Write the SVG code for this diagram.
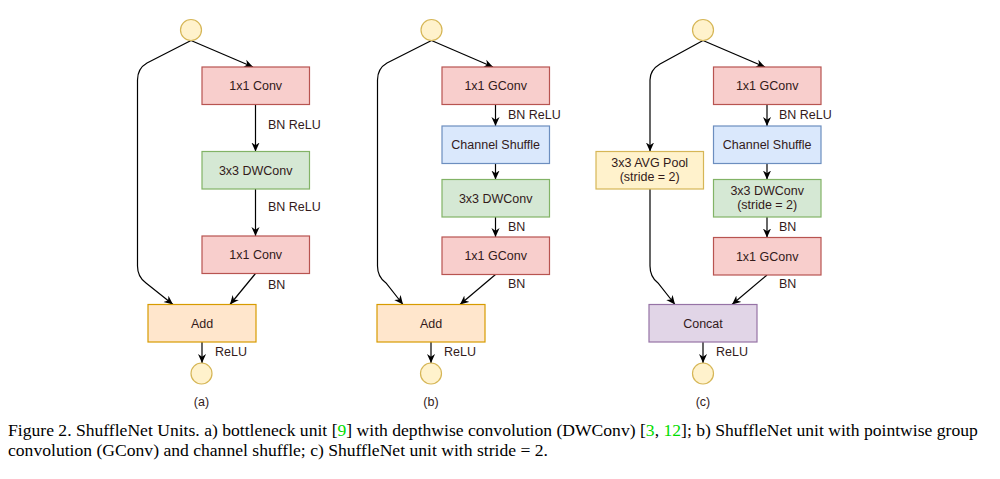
<svg xmlns="http://www.w3.org/2000/svg" width="1000" height="479" viewBox="0 0 1000 479">
  <defs>
    <style>
      .box { stroke-width: 1.2; }
      .red { fill: #f8cecc; stroke: #b85450; }
      .green { fill: #d5e8d4; stroke: #82b366; }
      .blue { fill: #dae8fc; stroke: #6c8ebf; }
      .orange { fill: #ffe6cc; stroke: #d79b00; }
      .yellow { fill: #fff2cc; stroke: #d6b656; }
      .purple { fill: #e1d5e7; stroke: #9673a6; }
      .lbl { font-family: "Liberation Sans", Arial, sans-serif; font-size: 12.5px; fill: #331a1a; }
      .mid { text-anchor: middle; }
      .edge { fill: none; stroke: #000; stroke-width: 1.2; marker-end: url(#arr); }
      .cap { font-family: "Liberation Serif", "Times New Roman", serif; font-size: 17.6px; fill: #000; }
      .ref { fill: #00dd00; }
    </style>
    <marker id="arr" viewBox="0 0 10 10" refX="10" refY="5" markerWidth="9" markerHeight="9" markerUnits="userSpaceOnUse" orient="auto">
      <path d="M0,0.5 L10,5 L0,9.5 L3,5 z" fill="#000"/>
    </marker>
  </defs>
  <rect width="1000" height="479" fill="#fff"/>

  <!-- connectors -->
  <g id="connectors">
    <!-- (a) bottleneck unit -->
    <path class="edge" d="M191,40.5 L253,67"/>
    <path class="edge" d="M255.5,104.5 L255.5,151.5"/>
    <path class="edge" d="M255.5,189 L255.5,236"/>
    <path class="edge" d="M255.5,273.5 L230,304.5"/>
    <path class="edge" d="M191,40.5 L147,63 Q137.5,68.5 137.5,80 L137.5,266 Q137.5,277 146,283 L173,304.5"/>
    <path class="edge" d="M202,342 L202,363"/>
    <!-- (b) ShuffleNet unit -->
    <path class="edge" d="M431.5,40.5 L493,67"/>
    <path class="edge" d="M495.5,104.5 L495.5,126"/>
    <path class="edge" d="M495.5,163.5 L495.5,179.5"/>
    <path class="edge" d="M495.5,217 L495.5,237"/>
    <path class="edge" d="M495.5,274.5 L460,304.5"/>
    <path class="edge" d="M431.5,40.5 L387,63 Q377.5,68.5 377.5,80 L377.5,266 Q377.5,277 386,283 L403,304.5"/>
    <path class="edge" d="M431,342 L431,363"/>
    <!-- (c) ShuffleNet unit, stride 2 -->
    <path class="edge" d="M703,40.5 L765,67"/>
    <path class="edge" d="M767,104.5 L767,126"/>
    <path class="edge" d="M767,163.5 L767,179.5"/>
    <path class="edge" d="M767,217 L767,237.5"/>
    <path class="edge" d="M767,275 L732,304.5"/>
    <path class="edge" d="M703,40.5 L660,64 Q650,70 650,80 L650,151.5"/>
    <path class="edge" d="M650,189 L650,266 Q650,277 658,283 L675,304.5"/>
    <path class="edge" d="M703,342 L703,363"/>
  </g>

  <!-- edge labels -->
  <g id="edge-labels" class="lbl">
    <text x="268" y="129">BN ReLU</text>
    <text x="268" y="211">BN ReLU</text>
    <text x="268" y="288.5">BN</text>
    <text x="215" y="355.5">ReLU</text>
    <text x="508" y="118.5">BN ReLU</text>
    <text x="508" y="230.5">BN</text>
    <text x="508" y="287.5">BN</text>
    <text x="444" y="355.5">ReLU</text>
    <text x="779" y="118.5">BN ReLU</text>
    <text x="779" y="230.5">BN</text>
    <text x="779" y="287.5">BN</text>
    <text x="716" y="355.5">ReLU</text>
  </g>

  <!-- (a) nodes -->
  <g id="a-in"><circle class="box yellow" cx="191" cy="30" r="10.5"/></g>
  <g id="a-conv1"><rect class="box red" x="202" y="67" width="107.5" height="37.5"/><text class="lbl mid" x="255.7" y="90">1x1 Conv</text></g>
  <g id="a-dwconv"><rect class="box green" x="202" y="151.5" width="107.5" height="37.5"/><text class="lbl mid" x="255.7" y="174.5">3x3 DWConv</text></g>
  <g id="a-conv2"><rect class="box red" x="202" y="236" width="107.5" height="37.5"/><text class="lbl mid" x="255.7" y="259">1x1 Conv</text></g>
  <g id="a-add"><rect class="box orange" x="148" y="304.5" width="108" height="37.5"/><text class="lbl mid" x="202" y="327.5">Add</text></g>
  <g id="a-out"><circle class="box yellow" cx="201.5" cy="373.5" r="10.5"/></g>
  <g id="a-caption"><text class="lbl mid" x="201.5" y="406">(a)</text></g>

  <!-- (b) nodes -->
  <g id="b-in"><circle class="box yellow" cx="431.5" cy="30" r="10.5"/></g>
  <g id="b-gconv1"><rect class="box red" x="442" y="67" width="107.5" height="37.5"/><text class="lbl mid" x="495.7" y="90">1x1 GConv</text></g>
  <g id="b-shuffle"><rect class="box blue" x="442" y="126" width="107.5" height="37.5"/><text class="lbl mid" x="495.7" y="149">Channel Shuffle</text></g>
  <g id="b-dwconv"><rect class="box green" x="442" y="179.5" width="107.5" height="37.5"/><text class="lbl mid" x="495.7" y="202.5">3x3 DWConv</text></g>
  <g id="b-gconv2"><rect class="box red" x="442" y="237" width="107.5" height="37.5"/><text class="lbl mid" x="495.7" y="260">1x1 GConv</text></g>
  <g id="b-add"><rect class="box orange" x="377" y="304.5" width="108" height="37.5"/><text class="lbl mid" x="431" y="327.5">Add</text></g>
  <g id="b-out"><circle class="box yellow" cx="431" cy="373.5" r="10.5"/></g>
  <g id="b-caption"><text class="lbl mid" x="431" y="406">(b)</text></g>

  <!-- (c) nodes -->
  <g id="c-in"><circle class="box yellow" cx="703" cy="30" r="10.5"/></g>
  <g id="c-gconv1"><rect class="box red" x="713.5" y="67" width="107.5" height="37.5"/><text class="lbl mid" x="767.2" y="90">1x1 GConv</text></g>
  <g id="c-shuffle"><rect class="box blue" x="713.5" y="126" width="107.5" height="37.5"/><text class="lbl mid" x="767.2" y="149">Channel Shuffle</text></g>
  <g id="c-dwconv"><rect class="box green" x="713.5" y="179.5" width="107.5" height="37.5"/><text class="lbl mid" x="767.2" y="194.5">3x3 DWConv</text><text class="lbl mid" x="767.2" y="209">(stride = 2)</text></g>
  <g id="c-gconv2"><rect class="box red" x="713.5" y="237.5" width="107.5" height="37.5"/><text class="lbl mid" x="767.2" y="260.5">1x1 GConv</text></g>
  <g id="c-pool"><rect class="box yellow" x="596" y="151.5" width="107.5" height="37.5"/><text class="lbl mid" x="649.7" y="166.5">3x3 AVG Pool</text><text class="lbl mid" x="649.7" y="181">(stride = 2)</text></g>
  <g id="c-concat"><rect class="box purple" x="649" y="304.5" width="108" height="37.5"/><text class="lbl mid" x="703" y="327.5">Concat</text></g>
  <g id="c-out"><circle class="box yellow" cx="703" cy="373.5" r="10.5"/></g>
  <g id="c-caption"><text class="lbl mid" x="703" y="406">(c)</text></g>

  <!-- figure caption -->
  <g id="figure-caption" class="cap">
    <text x="8" y="436">Figure 2. ShuffleNet Units. a) bottleneck unit [<tspan class="ref">9</tspan>] with depthwise convolution (DWConv) [<tspan class="ref">3</tspan>, <tspan class="ref">12</tspan>]; b) ShuffleNet unit with pointwise group</text>
    <text x="8" y="456">convolution (GConv) and channel shuffle; c) ShuffleNet unit with stride = 2.</text>
  </g>
</svg>
